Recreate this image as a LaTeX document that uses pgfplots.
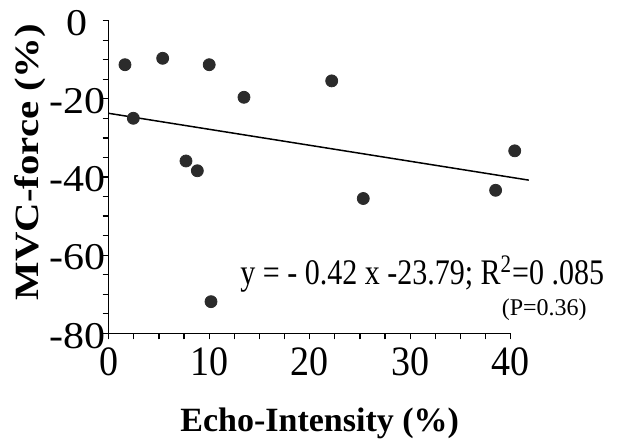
\documentclass[border=0pt]{standalone}
\usepackage{fontspec}
\setmainfont{Liberation Serif}
\usepackage{pgfplots}
\pgfplotsset{compat=1.18}
\definecolor{dotc}{HTML}{2B2B2B}
\begin{document}
\begin{tikzpicture}
\begin{axis}[
  at={(0,0)}, anchor=south west,
  scale only axis, width=201pt, height=156.3pt,
  xmin=0, xmax=40, ymin=-80, ymax=0,
  axis x line=bottom, axis y line=left,
  axis line style={black, line width=0.75pt, -},
  xtick={0,10,20,30,40}, minor x tick num=3,
  ytick={-80,-60,-40,-20,0}, minor y tick num=3,
  tick align=outside, major tick length=3pt, minor tick length=3pt,
  every tick/.style={black, line width=0.6pt},
  xticklabels={\scalebox{1}[1.1]{0},\scalebox{1}[1.1]{10},\scalebox{1}[1.1]{20},\scalebox{1}[1.1]{30},\scalebox{1}[1.1]{40}},
  yticklabels={\scalebox{1}[0.9]{-80},\scalebox{1}[0.9]{-60},\scalebox{1}[0.9]{-40},\scalebox{1}[0.9]{-20},\scalebox{1}[0.9]{0}},
  xticklabel style={font=\fontsize{19}{22}\selectfont, anchor=base, yshift=-18.3pt},
  yticklabel style={font=\fontsize{21}{24}\selectfont, anchor=center, xshift=-12.8pt, yshift=-1.2pt},
  xlabel={\fontsize{17}{20}\selectfont\bfseries Echo-Intensity (\%)},
  xlabel style={at={(axis description cs:0.525,0)}, anchor=base, yshift=-49.2pt},
  clip=false,
]
\addplot[only marks, mark=*, mark size=3pt, mark options={fill=dotc, draw=dotc}] coordinates {
  (1.62,-11.26) (2.45,-24.97) (5.37,-9.62) (7.69,-35.9) (8.82,-38.4)
  (10.0,-11.26) (10.18,-71.9) (13.46,-19.6) (22.19,-15.4) (25.33,-45.5)
  (38.5,-43.4) (40.4,-33.3)
};
\addplot[black, line width=0.75pt, no marks] coordinates {(0,-23.7) (41.8,-40.8)};
\node[anchor=base west, inner sep=0pt, font=\fontsize{15}{18}\selectfont] at (axis cs:13.07,-67.6)
  {\scalebox{1}[1.2]{y = - 0.42 x -23.79; R\textsuperscript{2}=0 .085}};
\node[anchor=base east, inner sep=0pt, font=\fontsize{12}{14}\selectfont] at (axis cs:47.6,-75.5) {(P=0.36)};
\end{axis}
\node[rotate=90, anchor=center] at (-39.35pt,85.66pt)
  {\scalebox{1.2}[1]{\fontsize{17}{20}\selectfont\bfseries MVC-force (\%)}};
\pgfresetboundingbox
\path[use as bounding box] (-54.35pt,-53.85pt) rectangle (257.65pt,166.65pt);
\end{tikzpicture}
\end{document}
